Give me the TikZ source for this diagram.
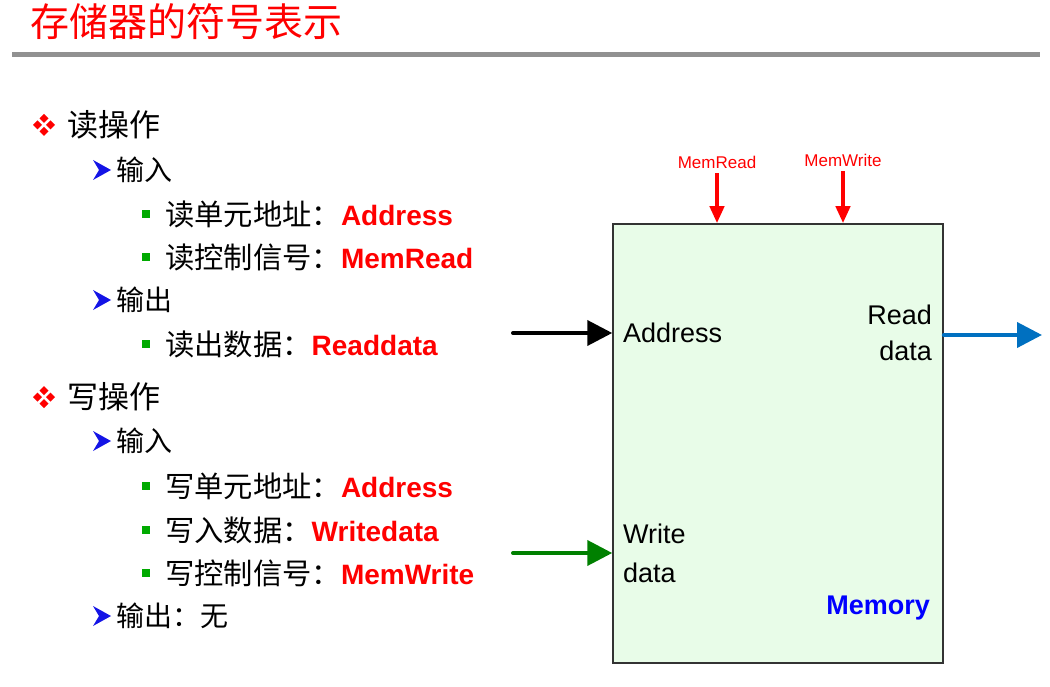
\documentclass[tikz,border=0pt]{standalone}
\usepackage{fontspec}
\setmainfont{Liberation Sans}
\newfontfamily\cjk{Noto Sans CJK SC}
\usetikzlibrary{arrows.meta}
\definecolor{titlered}{RGB}{255,0,0}
\definecolor{bargray}{RGB}{145,145,145}
\definecolor{boxfill}{RGB}{232,252,232}
\definecolor{bulgreen}{RGB}{0,170,0}
\definecolor{bulblue}{RGB}{20,20,230}
\definecolor{outblue}{RGB}{0,112,192}
\definecolor{wgreen}{RGB}{0,128,0}
\definecolor{memblue}{RGB}{0,0,255}
\tikzset{
  lvlone/.style={anchor=west,inner sep=0pt,font=\cjk\fontsize{31pt}{36pt}\selectfont},
  lvltwo/.style={anchor=west,inner sep=0pt,font=\fontsize{28pt}{34pt}\selectfont},
  diam/.pic={
    \foreach \dx/\dy in {-6.5/0,6.5/0,0/-6.5,0/6.5}
      \fill[titlered] (\dx-4.5,\dy) -- (\dx,\dy-4.5) -- (\dx+4.5,\dy) -- (\dx,\dy+4.5) -- cycle;
  },
  arrb/.pic={\fill[bulblue] (-9,-10) -- (9,0) -- (-9,10) -- (-3,0) -- cycle;},
  sqb/.pic={\fill[bulgreen] (-4,-4) rectangle (4,4);},
  bigarrow/.style={line width=4pt,line cap=round,-{Triangle[length=25pt,width=25pt]}},
  ctrlarrow/.style={line width=4pt,titlered,-{Triangle[length=17pt,width=14pt]}},
  boxtext/.style={inner sep=0pt,font=\fontsize{27pt}{36pt}\selectfont},
  ctrllabel/.style={inner sep=0pt,text=titlered,font=\fontsize{17pt}{20pt}\selectfont}
}
\newcommand{\kwd}[1]{{\bfseries\color{titlered}#1}}
\newcommand{\cjt}[1]{{\cjk\fontsize{29.3pt}{34pt}\selectfont #1}}
\begin{document}
\begin{tikzpicture}[x=1pt,y=-1pt]
\useasboundingbox (0,0) rectangle (1050,687);
% title
\node[anchor=west,inner sep=0pt,text=titlered,font=\cjk\fontsize{39pt}{44pt}\selectfont] (title) at (30,22) {存储器的符号表示};
\fill[bargray] (12,52) rectangle (1040,57);
% list
\pic at (44,125) {diam};
\node[lvlone] (r0) at (67,125) {读操作};
\pic at (102,170) {arrb};
\node[lvltwo] (r1) at (116,170) {\cjk 输入};
\pic at (146,214) {sqb};
\node[lvltwo] (r2) at (165,214) {\cjt{读单元地址：}\kwd{Address}};
\pic at (146,257) {sqb};
\node[lvltwo] (r3) at (165,257) {\cjt{读控制信号：}\kwd{MemRead}};
\pic at (102,300) {arrb};
\node[lvltwo] (r4) at (116,300) {\cjk 输出};
\pic at (146,344) {sqb};
\node[lvltwo] (r5) at (165,344) {\cjt{读出数据：}\kwd{Readdata}};
\pic at (44,397) {diam};
\node[lvlone] (w0) at (67,397) {写操作};
\pic at (102,441) {arrb};
\node[lvltwo] (w1) at (116,441) {\cjk 输入};
\pic at (146,486) {sqb};
\node[lvltwo] (w2) at (165,486) {\cjt{写单元地址：}\kwd{Address}};
\pic at (146,530) {sqb};
\node[lvltwo] (w3) at (165,530) {\cjt{写入数据：}\kwd{Writedata}};
\pic at (146,573) {sqb};
\node[lvltwo] (w4) at (165,573) {\cjt{写控制信号：}\kwd{MemWrite}};
\pic at (102,616) {arrb};
\node[lvltwo] (w5) at (116,616) {\cjk 输出：无};
% memory box
\node[draw=black!80,line width=1.5pt,fill=boxfill,minimum width=330pt,minimum height=439pt,inner sep=0pt] (mem) at (778,443.5) {};
\node[boxtext,anchor=west] (addr) at (623,333) {Address};
\node[boxtext,anchor=east,align=right] (rd) at (932,333) {Read\\data};
\node[boxtext,anchor=west,align=left,font=\fontsize{27pt}{39pt}\selectfont] (wd) at (623,553) {Write\\data};
\node[anchor=east,inner sep=0pt,text=memblue,font=\bfseries\fontsize{27pt}{32pt}\selectfont] (memlbl) at (930,608) {Memory};
% control signals
\node[ctrllabel] (mr) at (717,162) {MemRead};
\node[ctrllabel] (mw) at (843,160) {MemWrite};
\draw[ctrlarrow] ([yshift=-5pt]mr.south) -- (mr.south |- mem.north);
\draw[ctrlarrow] ([yshift=-5pt]mw.south) -- (mw.south |- mem.north);
% data arrows
\coordinate (ain) at (513,333);
\coordinate (win) at (513,553);
\coordinate (rout) at (1042,335);
\draw[bigarrow,black] (ain) -- (ain -| mem.west);
\draw[bigarrow,wgreen] (win) -- (win -| mem.west);
\draw[bigarrow,outblue] (rout -| mem.east) -- (rout);
\end{tikzpicture}
\end{document}
